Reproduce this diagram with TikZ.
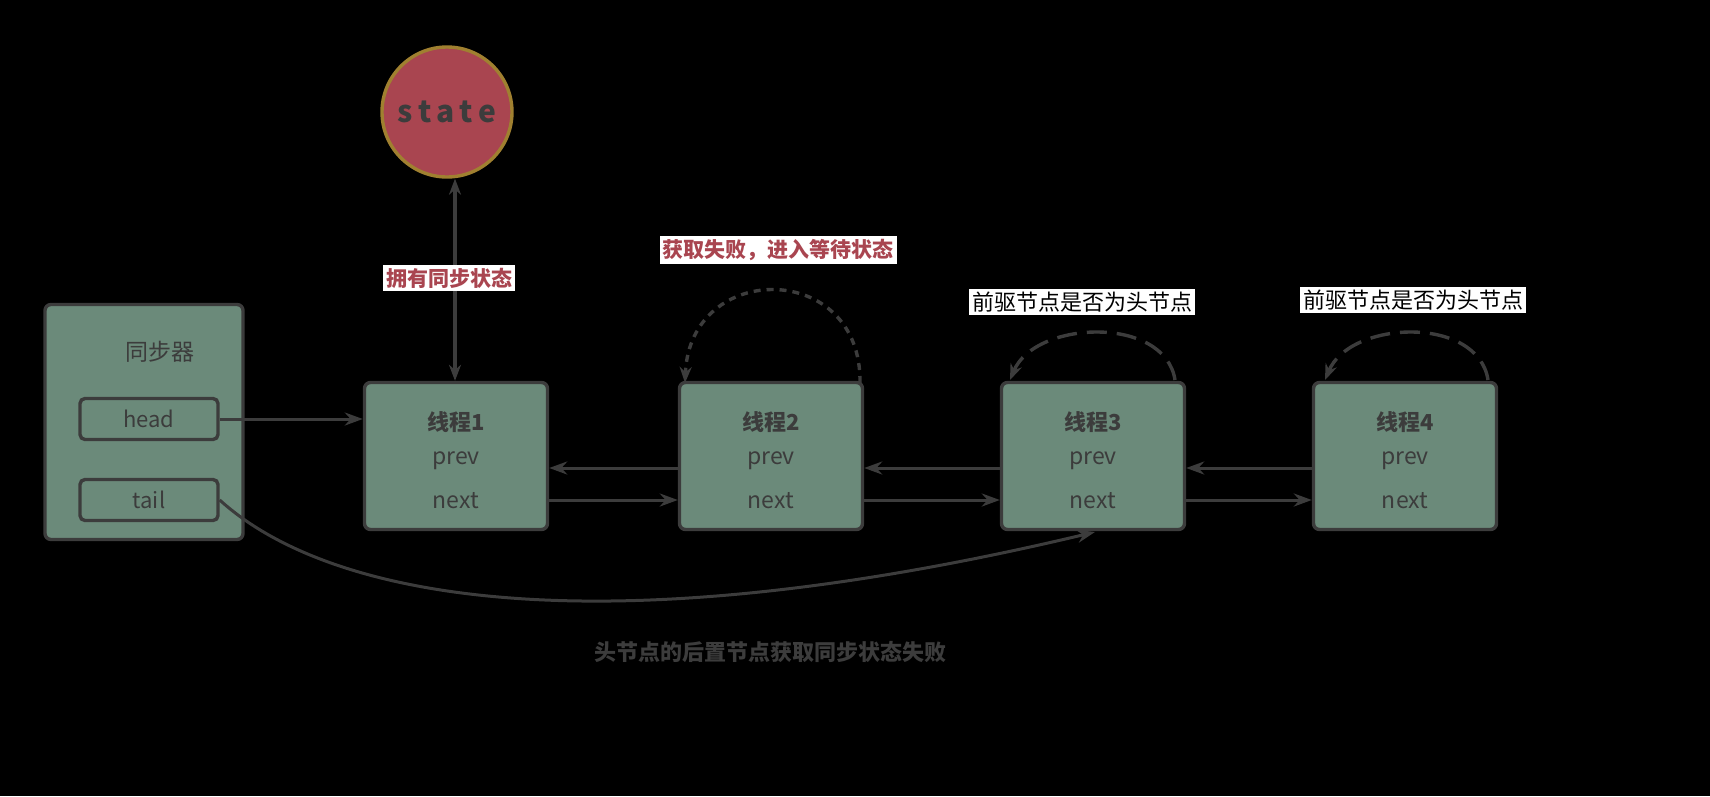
\documentclass[tikz,border=0pt]{standalone}
\usepackage{fontspec}
\setmainfont{Noto Sans CJK SC}
\usetikzlibrary{arrows.meta}
\definecolor{gr}{HTML}{6B8A7A}
\definecolor{ln}{HTML}{3C3C3C}
\definecolor{rd}{HTML}{A94550}
\definecolor{gd}{HTML}{A08030}
\begin{document}
\begin{tikzpicture}[x=1pt,y=-1pt,
  box/.style={draw=ln,line width=3.4pt,fill=gr,rounded corners=6pt},
  field/.style={draw=ln,line width=3.4pt,rounded corners=5pt,minimum width=138pt,minimum height=41pt,text=ln,font=\fontsize{22}{22}\selectfont},
  lbl/.style={text=ln,font=\fontsize{23}{23}\selectfont},
  arr/.style={draw=ln,line width=3pt,-{Stealth[length=18pt,width=13pt]}},
  dsh/.style={draw=ln,line width=3.4pt,-{Stealth[length=16pt,width=12pt]}},
  note/.style={fill=white,inner sep=3pt,font=\fontsize{22}{22}\selectfont}]
\fill[black] (0,0) rectangle (1710,796);
\node[circle,draw=gd,line width=3.4pt,fill=rd,minimum size=130pt,text=ln,font=\bfseries\fontsize{30}{30}\selectfont] (st) at (447,112) {s\,t\,a\,t\,e};
\node[box,minimum width=198pt,minimum height=235pt] (sync) at (144,422) {};
\node[lbl] at (160,352) {同步器};
\node[field] (head) at (149,419) {head};
\node[field] (tail) at (149,500) {tail};
\foreach \i/\x in {1/456,2/771,3/1093,4/1405}{
  \node[box,minimum width=183pt,minimum height=147pt] (t\i) at (\x,456) {};
  \node[lbl,font=\bfseries\fontsize{22}{22}\selectfont] at (\x,422) {线程\i};
  \node[lbl] at (\x,461) {prev};
  \node[lbl] at (\x,501) {next};
}
\draw[arr] (head.east) -- (t1.west|-head.east);
\foreach \a/\b in {1/2,2/3,3/4}{
  \draw[arr] (t\b.west|-0,468) -- (t\a.east|-0,468);
  \draw[arr] (t\a.east|-0,500) -- (t\b.west|-0,500);
}
\draw[draw=ln,line width=3.4pt,{Stealth[length=16pt,width=12pt]}-{Stealth[length=16pt,width=12pt]}] (st.south-|455,0) -- (t1.north-|455,0);
\node[note,text=rd,font=\bfseries\fontsize{21}{21}\selectfont] at (449,278) {拥有同步状态};
\coordinate (a2) at (860,383); \coordinate (b2) at (685,383);
\draw[dsh,dash pattern=on 7pt off 6pt] (a2) .. controls (862,260) and (690,260) .. (b2);
\node[note,text=rd,font=\bfseries\fontsize{21}{21}\selectfont] at (778,250) {获取失败，进入等待状态};
\coordinate (a3) at (1175,380); \coordinate (b3) at (1010,380);
\draw[dsh,dash pattern=on 20pt off 10pt] (a3) .. controls (1165,315) and (1035,320) .. (b3);
\node[note] at (1082,302) {前驱节点是否为头节点};
\coordinate (a4) at (1488,380); \coordinate (b4) at (1325,380);
\draw[dsh,dash pattern=on 20pt off 10pt] (a4) .. controls (1478,315) and (1350,320) .. (b4);
\node[note] at (1413,300) {前驱节点是否为头节点};
\coordinate (c3) at (1095,532);
\draw[arr] (tail.east) .. controls (330,600) and (600,650) .. (c3);
\node[text=ln,font=\bfseries\fontsize{22}{22}\selectfont] at (770,652) {头节点的后置节点获取同步状态失败};
\end{tikzpicture}
\end{document}
